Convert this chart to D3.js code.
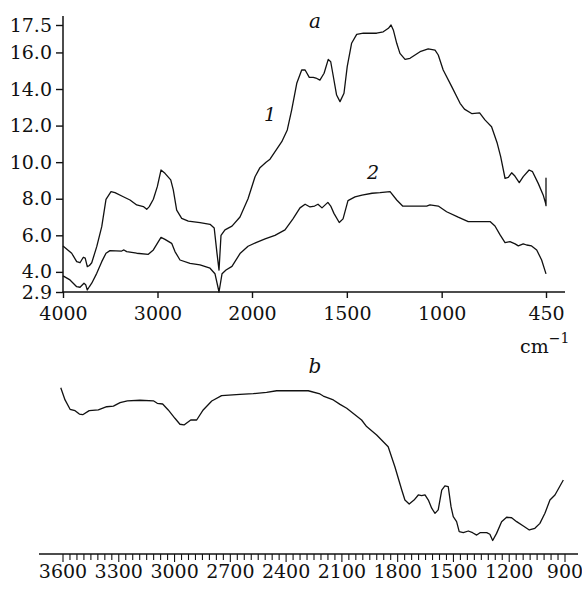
<!DOCTYPE html>
<html>
<head>
<meta charset="utf-8">
<script src="https://cdn.jsdelivr.net/npm/d3@7"></script>
<style>
  body { margin: 0; background: #fff; }
  text { font-family: "DejaVu Serif", serif; fill: #111; }
</style>
</head>
<body>
<div id="chart"></div>
<script>
// top panel (a): wavenumber, value
const curve1 = [[4000,5.42],[3908,5.02],[3855,4.56],[3820,4.5],[3785,4.8],[3765,4.75],[3743,4.29],[3720,4.35],[3696,4.5],[3643,5.38],[3590,6.47],[3545,7.97],[3492,8.39],[3450,8.33],[3362,8.11],[3291,7.93],[3220,7.66],[3150,7.57],[3114,7.42],[3087,7.57],[3044,7.97],[3002,8.66],[2963,9.57],[2921,9.39],[2860,9.03],[2833,8.48],[2797,7.38],[2744,6.93],[2674,6.78],[2550,6.69],[2444,6.6],[2400,6.4],[2370,5.0],[2349,4.1],[2328,6.0],[2286,6.3],[2212,6.5],[2127,7.0],[2042,8.0],[1984,9.2],[1958,9.7],[1926,10.0],[1905,10.16],[1843,11.12],[1814,11.76],[1791,12.85],[1764,14.31],[1738,15.04],[1720,15.04],[1698,14.64],[1677,14.64],[1663,14.6],[1642,14.49],[1620,14.86],[1598,15.62],[1585,15.49],[1571,14.67],[1554,13.67],[1536,13.31],[1515,13.77],[1498,15.22],[1475,16.5],[1448,16.99],[1413,17.05],[1343,17.05],[1308,17.13],[1281,17.32],[1267,17.5],[1255,17.23],[1237,16.5],[1220,15.95],[1193,15.62],[1167,15.68],[1114,16.04],[1071,16.19],[1035,16.13],[1018,15.86],[992,15.04],[947,14.13],[903,13.22],[880,12.9],[840,12.65],[800,12.7],[772,12.31],[737,11.94],[707,11.03],[689,10.3],[666,9.12],[649,9.17],[631,9.42],[614,9.24],[591,8.88],[570,9.21],[539,9.57],[521,9.48],[491,8.84],[465,8.21],[452,7.75],[450,7.62],[450,9.12],[450,7.7]];

const curve2 = [[4000,3.78],[3926,3.56],[3855,3.19],[3820,3.16],[3778,3.38],[3760,3.3],[3743,3.01],[3720,3.2],[3696,3.38],[3643,3.92],[3590,4.56],[3545,5.02],[3503,5.16],[3379,5.14],[3355,5.2],[3326,5.11],[3220,5.02],[3097,4.96],[3044,5.2],[3002,5.56],[2963,5.89],[2921,5.78],[2850,5.56],[2815,5.11],[2762,4.65],[2656,4.47],[2550,4.38],[2444,4.2],[2392,3.9],[2349,2.9],[2317,3.9],[2275,4.1],[2212,4.3],[2127,5.0],[2042,5.4],[1979,5.6],[1931,5.8],[1879,6.0],[1826,6.3],[1784,6.9],[1747,7.5],[1720,7.7],[1694,7.55],[1670,7.6],[1652,7.7],[1631,7.5],[1600,7.8],[1585,7.6],[1568,7.2],[1540,6.7],[1520,6.9],[1494,7.9],[1457,8.1],[1420,8.2],[1367,8.3],[1325,8.33],[1272,8.39],[1237,7.93],[1206,7.6],[1150,7.6],[1079,7.6],[1062,7.66],[1018,7.6],[974,7.29],[913,6.99],[860,6.75],[798,6.75],[745,6.75],[719,6.51],[692,6.02],[666,5.6],[640,5.65],[613,5.53],[596,5.42],[570,5.53],[552,5.47],[526,5.42],[499,5.2],[473,4.65],[450,3.89]];

const yTicksA = [2.9, 4, 6, 8, 10, 12, 14, 16, 17.5];
const xTicksA = [4000, 3000, 2000, 1500, 1000, 450];

// bottom panel (b): wavenumber, relative transmittance (no y axis shown)
const curveB = [[3612,94.3],[3589,87.1],[3562,81.6],[3535,80.8],[3512,78.8],[3494,78.4],[3459,80.8],[3410,81.2],[3365,83.1],[3329,83.5],[3293,85.5],[3254,86.6],[3186,86.9],[3114,86.6],[3093,85.1],[3064,84.7],[3034,81.2],[2998,76.3],[2971,72.8],[2949,72.4],[2913,75.3],[2881,75.3],[2846,81.2],[2800,86.5],[2747,89.6],[2648,90.4],[2577,90.8],[2505,91.6],[2451,92.5],[2361,92.5],[2281,92.5],[2218,90.6],[2200,89.4],[2146,87.1],[2110,84.5],[2074,82.2],[1994,75.3],[1967,71.4],[1913,66.5],[1851,59.6],[1815,47.8],[1778,34.1],[1761,28.2],[1738,25.9],[1712,28.2],[1689,31.2],[1671,30.8],[1653,31.2],[1635,28.2],[1617,23.4],[1599,20.4],[1582,22.4],[1563,34.1],[1546,36.5],[1528,36.1],[1513,24.3],[1501,18.4],[1483,15.5],[1469,9.6],[1447,9.0],[1420,10.0],[1397,9.0],[1375,7.6],[1357,9.0],[1321,9.0],[1304,8.1],[1289,4.4],[1268,8.6],[1241,15.5],[1214,18.1],[1187,17.8],[1160,15.5],[1124,12.9],[1092,10.6],[1062,11.6],[1035,14.5],[1008,20.4],[981,28.2],[954,31.2],[909,40.0]];

const xTicksB = [3600, 3300, 3000, 2700, 2400, 2100, 1800, 1500, 1200, 900];
const xMinorB = d3.range(3600, 899, -37.5);

const width = 582, height = 589;

const svg = d3.select("#chart").append("svg")
  .attr("width", width)
  .attr("height", height);

// ---- panel a ----
let xA = d3.scaleLinear().domain([4000, 2000, 450]).range([63, 252, 546]);
let yA = d3.scaleLinear().domain([2.9, 17.5]).range([292, 25]);

let gA = svg.append("g");

let yAxis = gA.append("g")
  .attr("transform", "translate(63,0)")
  .call(d3.axisLeft(yA).tickValues(yTicksA).tickFormat(d3.format(".1f")).tickSize(7).tickPadding(4));
yAxis.select(".domain").remove();

let xAxisA = gA.append("g")
  .attr("transform", "translate(0,292)")
  .call(d3.axisBottom(xA).tickValues(xTicksA).tickFormat(d3.format("d")).tickSize(6).tickPadding(9));
xAxisA.select(".domain").remove();

gA.selectAll(".tick line").attr("stroke", "#111").attr("stroke-width", 1.4);
gA.selectAll(".tick text").style("font-size", "19px").style("font-family", "DejaVu Serif").attr("fill", "#111");

gA.append("line").attr("x1", 63).attr("x2", 63).attr("y1", 16).attr("y2", 292.5)
  .attr("stroke", "#111").attr("stroke-width", 1.5);
gA.append("line").attr("x1", 62.5).attr("x2", 565).attr("y1", 292).attr("y2", 292)
  .attr("stroke", "#111").attr("stroke-width", 1.5);

let lineA = d3.line().x(d => xA(d[0])).y(d => yA(d[1]));

gA.selectAll("path.curve")
  .data([curve1, curve2])
  .join("path")
  .attr("class", "curve")
  .attr("d", lineA)
  .attr("fill", "none")
  .attr("stroke", "#111")
  .attr("stroke-width", 1.3)
  .attr("stroke-linejoin", "round");

gA.append("text").attr("x", 315).attr("y", 28).attr("text-anchor", "middle")
  .style("font-size", "20px").style("font-style", "italic").text("a");
gA.append("text").attr("x", 270).attr("y", 121).attr("text-anchor", "middle")
  .style("font-size", "19px").style("font-style", "italic").text("1");
gA.append("text").attr("x", 373).attr("y", 179).attr("text-anchor", "middle")
  .style("font-size", "19px").style("font-style", "italic").text("2");

let unit = gA.append("text").attr("x", 520).attr("y", 353).style("font-size", "19px");
unit.append("tspan").text("cm");
unit.append("tspan").attr("dy", -10).style("font-size", "14px").text("−1");

// ---- panel b ----
let xB = d3.scaleLinear().domain([3600, 900]).range([63, 565]);
let yB = d3.scaleLinear().domain([0, 100]).range([548, 378]);

let gB = svg.append("g");

gB.append("line").attr("x1", 39).attr("x2", 578).attr("y1", 554).attr("y2", 554)
  .attr("stroke", "#111").attr("stroke-width", 1.5);

gB.selectAll("line.minor")
  .data(xMinorB)
  .join("line")
  .attr("class", "minor")
  .attr("x1", d => xB(d)).attr("x2", d => xB(d))
  .attr("y1", 554).attr("y2", d => xTicksB.includes(d) ? 562 : 560)
  .attr("stroke", "#111").attr("stroke-width", 1.1);

gB.selectAll("text.tl")
  .data(xTicksB)
  .join("text")
  .attr("class", "tl")
  .attr("x", d => xB(d))
  .attr("y", 578)
  .attr("text-anchor", "middle")
  .style("font-size", "19px")
  .text(d => d);

gB.append("path")
  .datum(curveB)
  .attr("d", d3.line().x(d => xB(d[0])).y(d => yB(d[1])))
  .attr("fill", "none")
  .attr("stroke", "#111")
  .attr("stroke-width", 1.3)
  .attr("stroke-linejoin", "round");

gB.append("text").attr("x", 315).attr("y", 373).attr("text-anchor", "middle")
  .style("font-size", "20px").style("font-style", "italic").text("b");
</script>
</body>
</html>
